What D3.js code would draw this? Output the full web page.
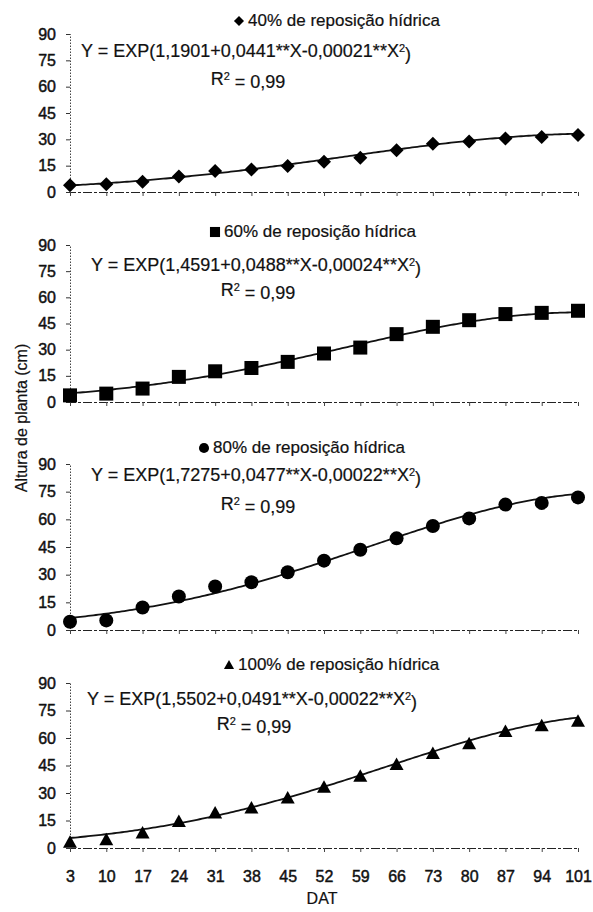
<!DOCTYPE html>
<html>
<head>
<meta charset="utf-8">
<script src="https://cdn.jsdelivr.net/npm/d3@7"></script>
<style>
  html, body { margin: 0; padding: 0; background: #fff; }
  svg { display: block; }
  text { font-family: "Liberation Sans", Arial, Helvetica, sans-serif; fill: #111; }
</style>
</head>
<body>
<svg id="chart" width="593" height="912"></svg>
<script>
// Days after transplanting (DAT)
const dat = [3, 10, 17, 24, 31, 38, 45, 52, 59, 66, 73, 80, 87, 94, 101];

// Plant height (cm) per water replacement level
const altura40  = [3.8, 4.4, 5.8, 8.9, 12.0, 12.8, 14.8, 17.2, 19.5, 23.8, 27.5, 28.8, 30.5, 31.3, 32.4];
const altura60  = [3.8, 4.8, 7.7, 14.4, 17.6, 19.5, 23.0, 27.8, 31.2, 38.9, 43.1, 46.9, 50.4, 51.1, 52.3];
const altura80  = [4.5, 5.2, 12.2, 18.2, 23.6, 25.9, 31.3, 37.6, 43.5, 49.7, 56.4, 60.5, 68.0, 68.9, 71.9];
const altura100 = [3.1, 4.5, 8.2, 14.5, 19.1, 21.8, 27.3, 33.1, 39.1, 45.5, 51.5, 56.9, 63.6, 66.7, 69.1];

// Fitted model Y = EXP(a + b*X - c*X^2), coefficients per level
const coefA = [1.1901, 1.4591, 1.7275, 1.5502];
const coefB = [0.0441, 0.0488, 0.0477, 0.0491];
const coefC = [0.00021, 0.00024, 0.00022, 0.00022];

const niveis = ["40%", "60%", "80%", "100%"];
const simbolos = ["diamond", "square", "circle", "triangle"];
const yTicks = [0, 15, 30, 45, 60, 75, 90];

const series = [altura40, altura60, altura80, altura100];

// Panel layout (vertical extent of each value axis, text anchors)
const panels = [
  { y0: 192, y90: 34,  title: 26,  titleX: 239, eq: 57,  eqX: 246, r2: 85 },
  { y0: 402, y90: 245, title: 237, titleX: 215, eq: 271, eqX: 256, r2: 296 },
  { y0: 630, y90: 464, title: 453, titleX: 204, eq: 481, eqX: 256, r2: 510 },
  { y0: 848, y90: 683, title: 670, titleX: 229, eq: 705, eqX: 252, r2: 730 }
];

const svg = d3.select("#chart");
const x = d3.scaleLinear().domain([3, 101]).range([70, 578]);

function fmt(v, d) { return v.toFixed(d).replace(".", ","); }

function marker(sel, kind) {
  if (kind === "diamond") {
    sel.append("path").attr("d", "M0,-7L7,0L0,7L-7,0Z");
  } else if (kind === "square") {
    sel.append("rect").attr("x", -7).attr("y", -7).attr("width", 14).attr("height", 14);
  } else if (kind === "circle") {
    sel.append("circle").attr("r", 7);
  } else {
    sel.append("path").attr("d", "M0,-7L7,5.5L-7,5.5Z");
  }
}

function tickText(sel) {
  sel.style("font-size", "16px")
    .style("font-family", "'Liberation Sans', Arial, sans-serif")
    .attr("fill", "#111")
    .attr("stroke", "#111")
    .attr("stroke-width", 0.45);
}

panels.forEach((p, i) => {
  const y = d3.scaleLinear().domain([0, 90]).range([p.y0, p.y90]);
  const g = svg.append("g");

  // value axis
  const yAxis = d3.axisLeft(y).tickValues(yTicks).tickSize(4).tickPadding(10);
  const ya = g.append("g").attr("transform", "translate(70,0)").call(yAxis);
  ya.select(".domain").attr("stroke", "#444").attr("stroke-dasharray", "1.5,1.5");
  ya.selectAll(".tick line").attr("stroke", "#333");
  ya.selectAll(".tick text").call(tickText);

  // category axis
  const xAxis = d3.axisBottom(x).tickValues(dat).tickSize(4).tickFormat(i === 3 ? d3.format("d") : () => "");
  const xa = g.append("g").attr("transform", `translate(0,${p.y0})`).call(xAxis);
  xa.select(".domain").attr("stroke", "#222").attr("stroke-dasharray", "9,2,3,2");
  xa.selectAll(".tick line").attr("stroke", "#444");
  xa.selectAll(".tick text").attr("dy", "1.7em").call(tickText);

  // fitted curve
  const a = coefA[i], b = coefB[i], c = coefC[i];
  const xs = d3.range(3, 101.01, 0.5);
  const line = d3.line().x(d => x(d)).y(d => y(Math.exp(a + b * d - c * d * d)));
  g.append("path").datum(xs).attr("d", line)
    .attr("fill", "none").attr("stroke", "#111").attr("stroke-width", 1.8);

  // observed points
  g.selectAll("g.pt").data(series[i].map((v, k) => [dat[k], v])).enter()
    .append("g").attr("class", "pt")
    .attr("transform", d => `translate(${x(d[0])},${y(d[1])})`)
    .attr("fill", "#000")
    .each(function () { marker(d3.select(this), simbolos[i]); });

  // legend title
  const tg = g.append("g").attr("transform", `translate(${p.titleX},${p.title - 5})`).attr("fill", "#000");
  const lm = tg.append("g").attr("transform", "scale(0.72)");
  marker(lm, simbolos[i]);
  g.append("text").attr("x", p.titleX + 9).attr("y", p.title)
    .style("font-size", "17px").attr("stroke", "#111").attr("stroke-width", 0.2)
    .text(`${niveis[i]} de reposição hídrica`);

  // equation
  const eq = g.append("text").attr("x", p.eqX).attr("y", p.eq).attr("text-anchor", "middle")
    .style("font-size", "18px").attr("stroke", "#111").attr("stroke-width", 0.2);
  eq.append("tspan").text(`Y = EXP(${fmt(a, 4)}+${fmt(b, 4)}**X-${fmt(c, 5)}**X`);
  eq.append("tspan").attr("dy", "-0.45em").style("font-size", "11px").text("2");
  eq.append("tspan").attr("dy", "0.45em").text(")");

  const r2 = g.append("text").attr("x", p.eqX + 2).attr("y", p.r2).attr("text-anchor", "middle")
    .style("font-size", "18px").attr("stroke", "#111").attr("stroke-width", 0.2);
  r2.append("tspan").text("R");
  r2.append("tspan").attr("dy", "-0.45em").style("font-size", "11px").text("2");
  r2.append("tspan").attr("dy", "0.45em").text(" = 0,99");
});

// axis titles
svg.append("text").attr("x", 322).attr("y", 904).attr("text-anchor", "middle")
  .style("font-size", "16px").attr("stroke", "#111").attr("stroke-width", 0.2).text("DAT");
svg.append("text").attr("transform", "translate(27,418) rotate(-90)").attr("text-anchor", "middle")
  .style("font-size", "16px").attr("stroke", "#111").attr("stroke-width", 0.2).text("Altura de planta (cm)");
</script>
</body>
</html>
